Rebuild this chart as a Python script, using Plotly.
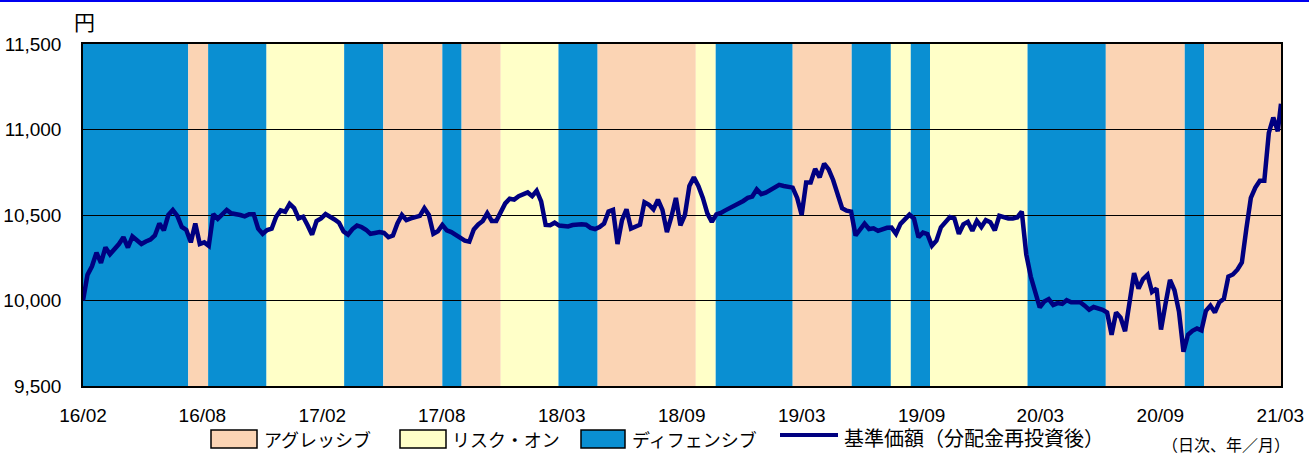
import pandas as pd
import plotly.graph_objects as go

# ---------------- data ----------------
week_start = "2016-02-19"
nav_values = [
    10000, 10150, 10200, 10280, 10220, 10310, 10270, 10296, 10330, 10370,
    10310, 10374, 10355, 10330, 10345, 10356, 10380, 10450, 10410, 10500,
    10529, 10495, 10430, 10413, 10340, 10450, 10330, 10340, 10320, 10505,
    10478, 10505, 10530, 10510, 10507, 10500, 10492, 10505, 10505, 10420,
    10390, 10412, 10420, 10490, 10527, 10519, 10565, 10540, 10480, 10490,
    10440, 10385, 10465, 10480, 10505, 10492, 10474, 10455, 10403, 10385,
    10418, 10438, 10430, 10414, 10390, 10395, 10400, 10395, 10370, 10380,
    10451, 10500, 10470, 10480, 10490, 10495, 10540, 10500, 10390, 10405,
    10442, 10410, 10400, 10383, 10360, 10350, 10344, 10415, 10445, 10465,
    10510, 10465, 10465, 10510, 10568, 10595, 10590, 10610, 10620, 10632,
    10610, 10642, 10580, 10442, 10440, 10455, 10438, 10437, 10433, 10441,
    10445, 10446, 10443, 10425, 10418, 10430, 10450, 10520, 10530, 10330,
    10470, 10533, 10420, 10435, 10443, 10575, 10560, 10533, 10590, 10530,
    10400, 10490, 10600, 10440, 10500, 10670, 10720, 10670, 10600, 10510,
    10460, 10504, 10512, 10527, 10540, 10555, 10569, 10582, 10600, 10608,
    10650, 10622, 10631, 10645, 10666, 10676, 10670, 10665, 10660, 10600,
    10500, 10690, 10690, 10770, 10720, 10800, 10767, 10705, 10631, 10540,
    10525, 10520, 10380, 10416, 10450, 10418, 10422, 10407, 10416, 10425,
    10426, 10390, 10448, 10478, 10502, 10480, 10370, 10397, 10388, 10320,
    10350, 10428, 10458, 10488, 10480, 10390, 10445, 10460, 10408, 10465,
    10430, 10470, 10458, 10410, 10495, 10484, 10480, 10480, 10486, 10520,
    10270, 10140, 10060, 9960, 9994, 10008, 9974, 9985, 9980, 10002,
    9990, 9988, 9990, 9970, 9946, 9962, 9955, 9946, 9930, 9800,
    9930, 9900, 9820, 9990, 10160, 10070, 10125, 10150, 10050, 10070,
    9830, 9980, 10120, 10060, 9935, 9700, 9800, 9823, 9836, 9825,
    9940, 9970, 9930, 9990, 10010, 10140, 10152, 10180, 10222, 10420,
    10600, 10660, 10700, 10700, 10980, 11070, 10990,
]
nav_final_date = "2021-03-31"
nav_final_value = 11150

regime_start = [
    "2016-02-19", "2016-08-01", "2016-09-01", "2016-12-01", "2017-04-01",
    "2017-06-01", "2017-09-01", "2017-10-01", "2017-12-01", "2018-03-01",
    "2018-05-01", "2018-10-01", "2018-11-01", "2019-03-01", "2019-06-01",
    "2019-08-01", "2019-09-01", "2019-10-01", "2020-03-01", "2020-07-01",
    "2020-11-01", "2020-12-01",
]
regime_end = regime_start[1:] + ["2021-03-31"]
regime_type = [
    "D", "A", "D", "R", "D", "A", "D", "A", "R", "D", "A",
    "R", "D", "A", "D", "R", "D", "R", "D", "A", "D", "A",
]

regime_names = {"A": "アグレッシブ", "R": "リスク・オン", "D": "ディフェンシブ"}
line_name = "基準価額（分配金再投資後）"
unit_label = "円"
note_label = "（日次、年／月）"

x_range = ["2016-02-19", "2021-03-31"]
x_tickvals = ["2016-02-19", "2016-08-23", "2017-02-26", "2017-08-31", "2018-03-06",
              "2018-09-09", "2019-03-15", "2019-09-18", "2020-03-21", "2020-09-24",
              "2021-03-30"]
x_ticktext = ["16/02", "16/08", "17/02", "17/08", "18/03", "18/09",
              "19/03", "19/09", "20/03", "20/09", "21/03"]
y_range = [9500, 11500]
y_tickvals = [9500, 10000, 10500, 11000, 11500]

# ---------------- style ----------------
colors = {"A": "#FBD4B4", "R": "#FFFFC8", "D": "#0A8FD2"}
line_color = "#000080"
W, H = 1309, 458
ML, MR, MT, MB = 83, 28, 44, 72
PW, PH = W - ML - MR, H - MT - MB
JP = "Noto Sans CJK JP"
NUM = "Liberation Sans, Noto Sans CJK JP"


def px(x):
    return (x - ML) / PW


def py(y):
    return (H - MB - y) / PH


dates = list(pd.date_range(week_start, periods=len(nav_values), freq="7D")) + [pd.Timestamp(nav_final_date)]
values = nav_values + [nav_final_value]

fig = go.Figure()
fig.add_trace(go.Scatter(x=dates, y=values, mode="lines",
                         line=dict(color=line_color, width=4.5),
                         name=line_name, showlegend=False, hoverinfo="x+y"))

shapes = []
for s, e, t in zip(regime_start, regime_end, regime_type):
    shapes.append(dict(type="rect", xref="x", yref="y", x0=s, x1=e,
                       y0=y_range[0], y1=y_range[1], fillcolor=colors[t],
                       line=dict(width=0), layer="below"))

# top blue rule
shapes.append(dict(type="line", xref="paper", yref="paper", x0=px(0), x1=px(W),
                   y0=py(1), y1=py(1), line=dict(color="#0000F0", width=2)))

annotations = [
    dict(text=unit_label, xref="paper", yref="paper", x=px(84), y=py(21),
         xanchor="center", yanchor="middle", showarrow=False,
         font=dict(family=JP, size=21, color="black")),
    dict(text=note_label, xref="paper", yref="paper", x=px(1292), y=py(444),
         xanchor="right", yanchor="middle", showarrow=False,
         font=dict(family=JP, size=16, color="black")),
]

# custom legend
legend_items = [("A", 211, 257, 262), ("R", 400, 446, 450), ("D", 581, 625, 630)]
for key, x0, x1, tx in legend_items:
    shapes.append(dict(type="rect", xref="paper", yref="paper", x0=px(x0), x1=px(x1),
                       y0=py(448), y1=py(430), fillcolor=colors[key],
                       line=dict(color="black", width=1.5)))
    annotations.append(dict(text=regime_names[key], xref="paper", yref="paper",
                            x=px(tx), y=py(439), xanchor="left", yanchor="middle",
                            showarrow=False, font=dict(family=JP, size=18, color="black")))
shapes.append(dict(type="line", xref="paper", yref="paper", x0=px(780), x1=px(838),
                   y0=py(435), y1=py(435), line=dict(color=line_color, width=4)))
annotations.append(dict(text=line_name, xref="paper", yref="paper", x=px(842), y=py(438),
                        xanchor="left", yanchor="middle", showarrow=False,
                        font=dict(family=JP, size=20, color="black")))

fig.update_layout(
    width=W, height=H,
    margin=dict(l=ML, r=MR, t=MT, b=MB, pad=0, autoexpand=False),
    paper_bgcolor="white", plot_bgcolor="white",
    shapes=shapes, annotations=annotations,
    showlegend=False,
    xaxis=dict(type="date", range=x_range, tickvals=x_tickvals, ticktext=x_ticktext,
               showgrid=False, showline=True, linecolor="black", linewidth=1.5,
               mirror=True, ticks="", ticklabelstandoff=11, zeroline=False,
               automargin=False,
               tickfont=dict(family=NUM, size=19, color="black")),
    yaxis=dict(range=y_range, tickvals=y_tickvals, tickformat=",",
               showgrid=True, gridcolor="black", gridwidth=1,
               showline=True, linecolor="black", linewidth=1.5, mirror=True,
               ticks="", ticklabelstandoff=16, zeroline=False,
               automargin=False,
               tickfont=dict(family=NUM, size=19, color="black")),
)

fig.write_html("out.html", config={"displayModeBar": False},
               post_script="document.body.style.margin='0px';")
